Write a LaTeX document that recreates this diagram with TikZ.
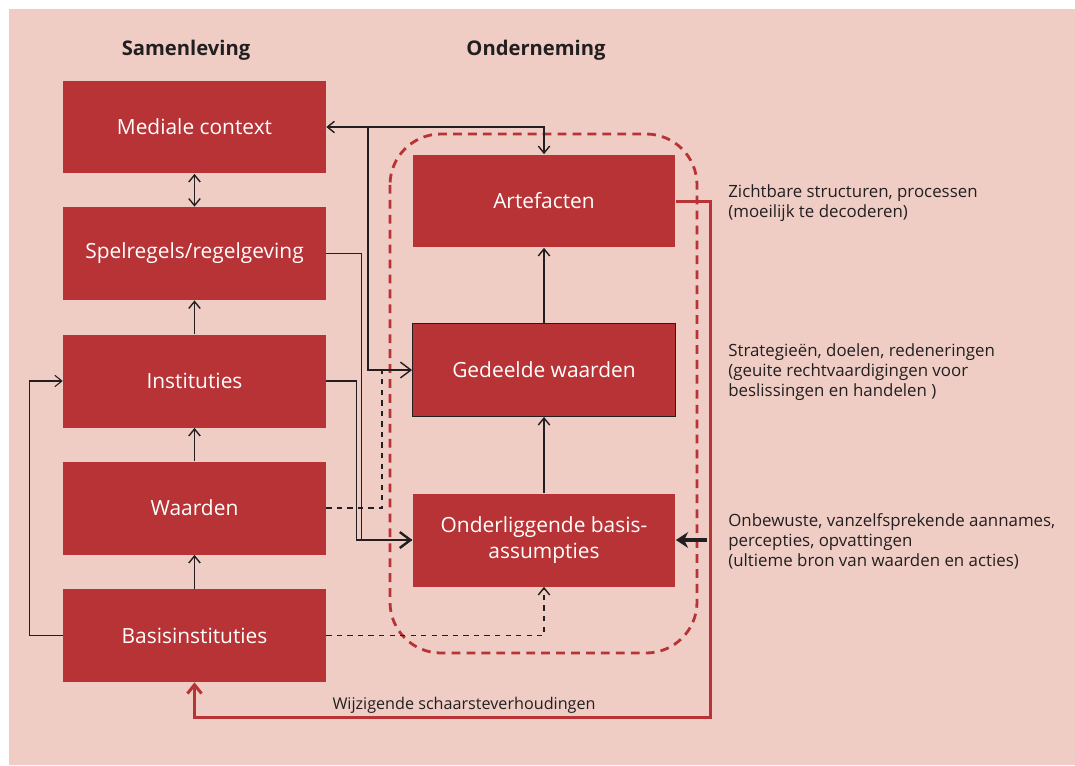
\documentclass[tikz,border=0pt]{standalone}
\usepackage{fontspec}
\setmainfont{Open Sans}
\usetikzlibrary{arrows.meta}
\definecolor{boxred}{HTML}{B83336}
\definecolor{bgpink}{HTML}{EFCDC4}
\definecolor{ink}{HTML}{231F20}
\begin{document}
\begin{tikzpicture}[x=0.02cm,y=-0.02cm,
    >={Straight Barb[length=4pt,width=6.5pt]},
    box/.style={fill=boxred, text=white, minimum width=5.26cm, minimum height=1.86cm, inner sep=0pt, font=\fontsize{11.9}{14.6}\selectfont, align=center},
    head/.style={font=\bfseries\fontsize{11.5}{14}\selectfont, text=ink},
    note/.style={anchor=north west, inner sep=0pt, align=left, text=ink, font=\fontsize{9.6}{11.4}\selectfont},
    link/.style={draw=ink, line width=0.8pt}]
  \useasboundingbox (0,0) rectangle (1075,765);
  \fill[white] (0,0) rectangle (1075,765);
  \fill[bgpink] (9,9) rectangle (1075,765);
  % headings
  \node[head] (hS) at (186,50) {Samenleving};
  \node[head] (hO) at (536,50) {Onderneming};
  % left column
  \node[box] (MC) at (194.5,127) {Mediale context};
  \node[box] (SR) at (194.5,253.5) {Spelregels/regelgeving};
  \node[box] (IN) at (194.5,381) {Instituties};
  \node[box] (WA) at (194.5,508) {Waarden};
  \node[box] (BI) at (194.5,635.5) {Basisinstituties};
  % middle column
  \draw[boxred, line width=1.6pt, dash pattern=on 5pt off 3.5pt, rounded corners=29pt] (390,134) rectangle (697,653);
  \node[box] (AF) at (544,201) {Artefacten};
  \node[box, draw=ink, line width=0.5pt] (GW) at (544,370) {Gedeelde waarden};
  \node[box] (OB) at (544,540) {Onderliggende basis-\\assumpties};
  % notes
  \node[note] (n1) at (728,184) {Zichtbare structuren, processen\\(moeilijk te decoderen)};
  \node[note] (n2) at (728,343) {Strategieën, doelen, redeneringen\\(geuite rechtvaardigingen voor\\beslissingen en handelen )};
  \node[note] (n3) at (728,513) {Onbewuste, vanzelfsprekende aannames,\\percepties, opvattingen\\(ultieme bron van waarden en acties)};
  % left column arrows
  \draw[link,<->] (MC.south) -- (SR.north);
  \draw[link,->] (IN.north) -- (SR.south);
  \draw[link,->] (WA.north) -- (IN.south);
  \draw[link,->] (BI.north) -- (WA.south);
  \draw[link,line width=0.6pt,->] (BI.west) -- ++(-33,0) |- (IN.west);
  % middle column arrows
  \draw[link,->] (GW.north) -- (AF.south);
  \draw[link,->] (OB.north) -- (GW.south);
  % crossing links
  \draw[link,<->] (MC.east) -| (AF.north);
  \coordinate (m1) at (368,127);
  \draw[link,-{Straight Barb[length=6pt,width=9pt]}] (m1) |- (GW.west);
  \draw[link,-{Straight Barb[length=6pt,width=9pt]}] (SR.east) -- ++(35,0) |- (OB.west);
  \draw[link] (IN.east) -- ++(30,0) |- (OB.west);
  \draw[link,line width=1.3pt,-{Straight Barb[length=6pt,width=9pt]}] (361,540) -- (OB.west);
  \coordinate (w1) at (382,370);
  \draw[link,dashed] (WA.east) -| (w1);
  \draw[link,dashed,->] (BI.east) -| (OB.south);
  % feedback
  \coordinate (r1) at (710,717);
  \draw[boxred, line width=1.7pt, -{Straight Barb[length=5pt,width=8pt]}] (AF.east) -| (r1) -| (BI.south);
  \node[text=ink, font=\fontsize{9.2}{11}\selectfont] (ws) at (464,705) {Wijzigende schaarsteverhoudingen};
  \coordinate (o1) at (707,540);
  \draw[draw=ink, line width=2pt, -{Stealth[length=7pt,width=9pt]}] (o1) -- (OB.east);
\end{tikzpicture}
\end{document}
